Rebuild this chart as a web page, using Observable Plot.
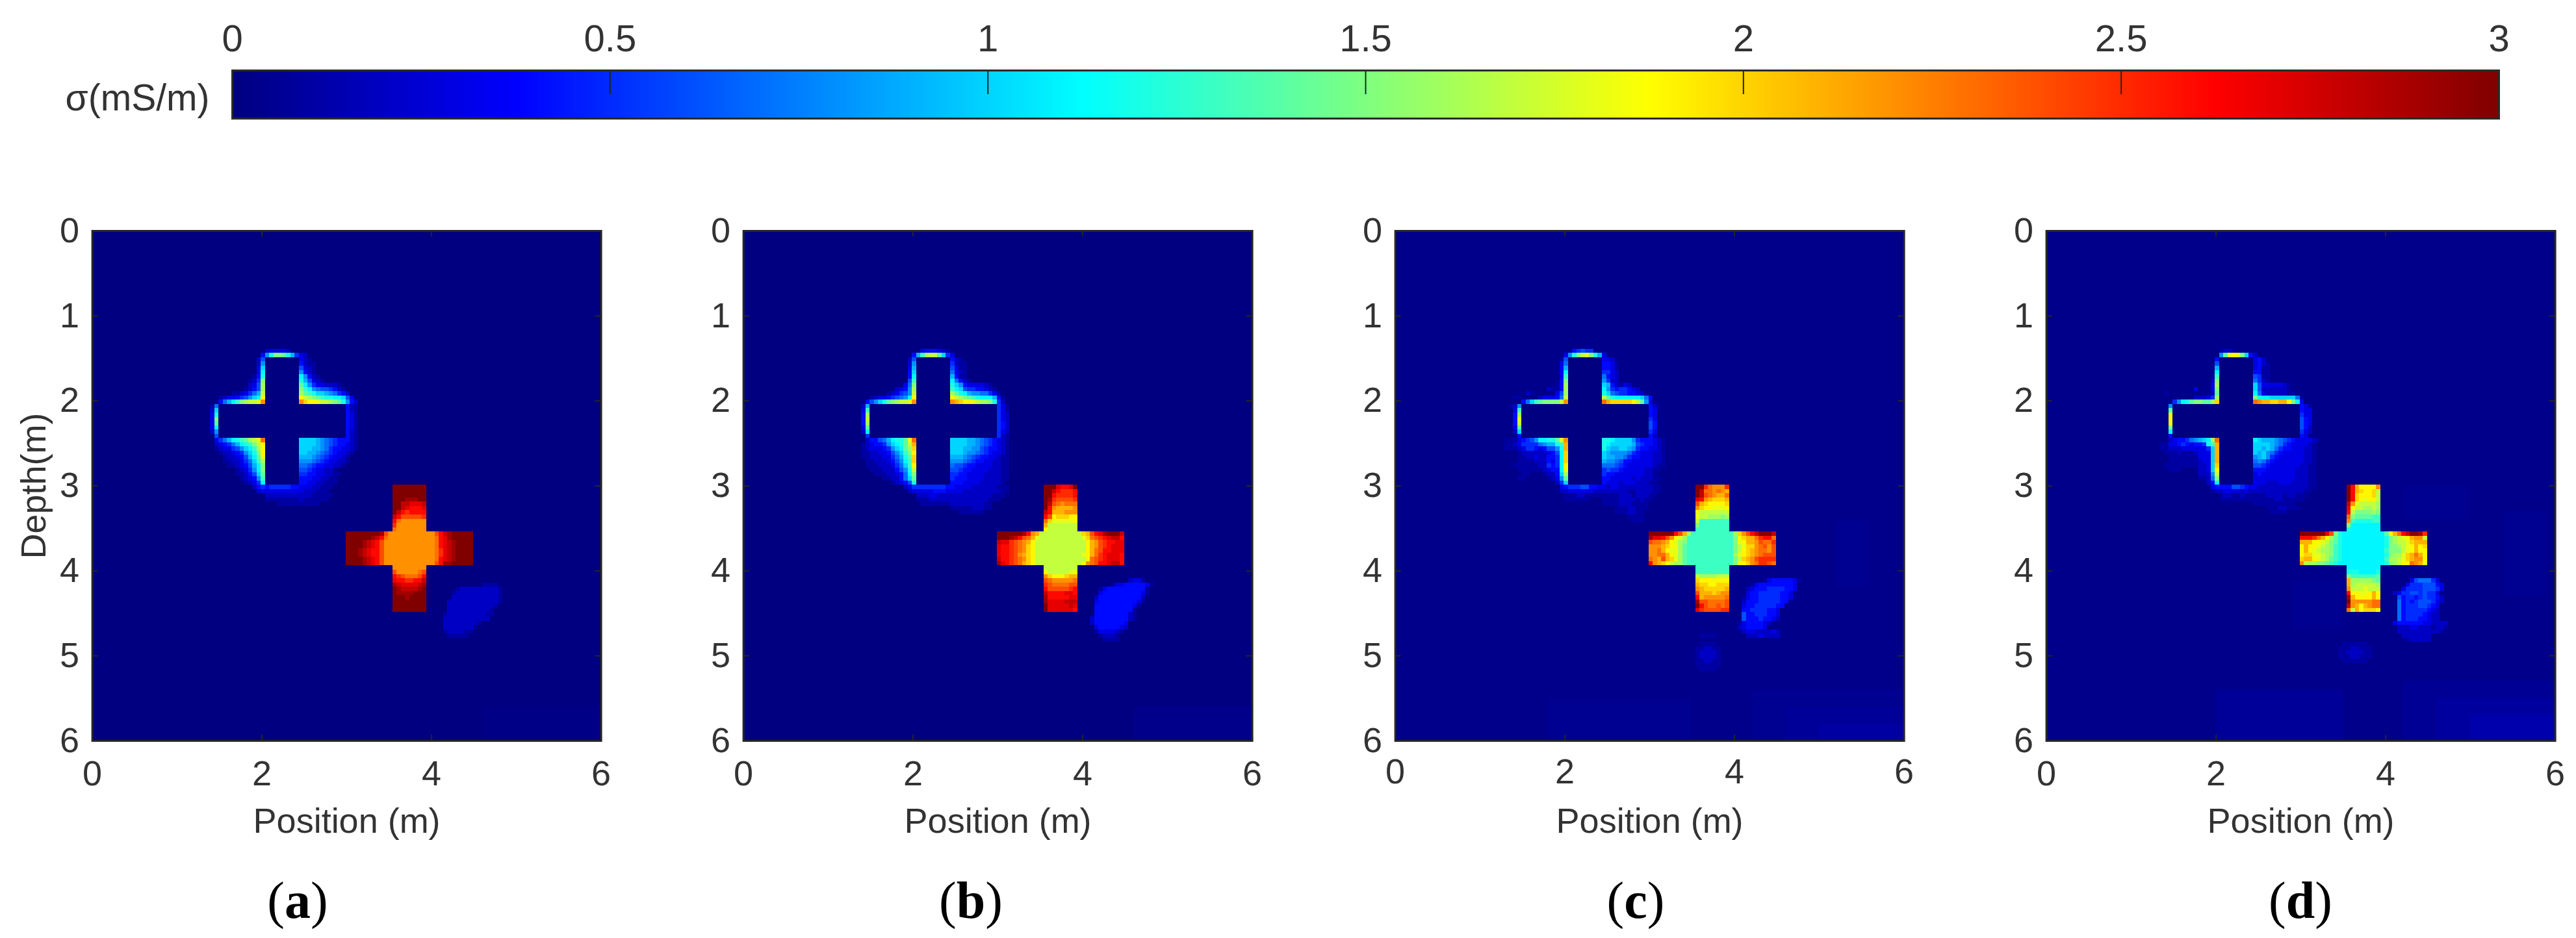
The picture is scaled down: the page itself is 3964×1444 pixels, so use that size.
<!DOCTYPE html>
<html><head><meta charset="utf-8">
<script src="https://cdn.jsdelivr.net/npm/d3@7"></script>
<script src="https://cdn.jsdelivr.net/npm/@observablehq/plot@0.6"></script>
<style>
html,body{margin:0;padding:0;background:#fff}
#page{position:relative;width:3964px;height:1444px;overflow:hidden;background:#fff}
#page>svg,#page>figure{position:absolute;margin:0}
.cap{position:absolute;font-family:"Liberation Serif";font-size:80px;color:#000;transform:translateX(-50%);white-space:nowrap;line-height:1}
</style></head><body><div id="page"></div>
<script>
// colour scale (mS/m)
const jetStops = [0, 0.375, 1.125, 1.875, 2.625, 3];
const jetColors = ["#000080", "#0000ff", "#00ffff", "#ffff00", "#ff0000", "#800000"];
const barTicks = [0, 0.5, 1, 1.5, 2, 2.5, 3];
const axisTicksX = [0, 2, 4, 6];
const axisTicksY = [0, 1, 2, 3, 4, 5, 6];
const captions = ["a", "b", "c", "d"];
const captionX = [458, 1494, 2517, 3540];
const panelLeft = [141.6, 1144, 2146.6, 3149];
const backgrounds = [0, 0, 0.03, 0.03];
// the conductivity-free hole of the first cross: [x1,x2,y1,y2] in metres
const holeArms = [[2.04, 2.44, 1.49, 2.99], [1.49, 2.99, 2.04, 2.44]];
// faint areas: [x1,x2,y1,y2,sigma]
const patchesA = [[4.6, 6, 5.6, 6, 0.02]];
const patchesB = [[4.6, 6, 5.6, 6, 0.03]];
const patchesC = [[4.2, 6, 5.4, 6, 0.05], [4.6, 6, 5.6, 6, 0.07], [5, 6, 5.8, 6, 0.1], [1.8, 3.5, 5.5, 6, 0.05], [5.2, 5.6, 3.4, 4.2, 0.05]];
const patchesD = [[4.2, 6, 5.3, 6, 0.06], [4.6, 6, 5.5, 6, 0.09], [5, 6, 5.7, 6, 0.13], [2, 3.5, 5.4, 6, 0.07], [5.4, 5.9, 3.3, 4.3, 0.05], [2.9, 3.5, 4.1, 4.7, 0.05], [4.2, 5, 3, 3.4, 0.05]];
// Cells, one string per 0.05 m row from depth 1.29 m.
// "col:chars": first column (0.05 m each, from 1.29 m) and base-36 sigma in tenths of mS/m.
const rowsA = ["","",
"15:233332","14:48cffec9532","13:26 23:321","13:28 23:4211","13:3a 23:6321","13:3b 23:8421","12:14c 23:b8421","11:125f 23:c96321",
"11:236g 23:eb85332221","10:1246g 23:fdb87665421","7:1123579h 23:gedcaa987542","4:12334568abj 23:jhgfedccbba63","4:479bdfghhim 23:mkjjihhgfec842",
"2:17 34:421","2:2a 34:421","2:3c 34:431","2:3f 34:431","2:3e 34:431","2:3b 34:431","2:28 34:421","3:6 34:421",
"3:3579bcdeghin 23:aaaa9876544421","3:234579bcdfhj 23:aaaa9876544321","3:1233568abdgj 23:aaa99875443321","4:1223458acfj 23:aa99876543321",
"5:1223469bei 23:999876543321","5:1122357adg 23:888765433221","6:1123469bf 23:77654433221","8:12358bf 23:665433221","8:11246ae 23:5544332211",
"9:12348d 23:444332211","10:1235b 23:443322111",
"12:2454555554433322111 45:uuuuuuuu","13:23333333333222111 45:uuuuuuuu","15:2222222222211111 45:uuuuuuuu","15:111111112111111 45:uuutttuu","18:1111111111 45:uussrrrs",
"45:uusrqqqr","45:usqpqqqq","45:sqooooop","45:qnmmmmmm","45:pmmmmmmm","45:nmmmmmmm",
"34:uuuuuuuutommmmmmmmmmmoqstuuuuu","34:uuuuuutsqnmmmmmmmmmmmnqrtuuuuu","34:uuuutsrqommmmmmmmmmmmnqrstuuuu","34:uuuutsrqommmmmmmmmmmmnqrstuuuu",
"34:uuutsrqqommmmmmmmmmmmnprstuuuu","34:uuutsrqqommmmmmmmmmmmnprstuuuu","34:uuuutsrqommmmmmmmmmmmnqrstuuuu","34:uuuutsrqommmmmmmmmmmmoqttuuuuu",
"45:mmmmmmmm","45:ommmmmno","45:qponnnoq","45:rqqppqqs","45:tsrrrrst 66:1111","45:utsssstu 60:12222222221","45:uttttuuu 59:122222222221","45:uuutuuuu 59:222222222221",
"45:uuuuuuuu 58:2222222222221","45:uuuuuuuu 58:222222222221","45:uuuuuuuu 58:22222222221","57:122222222211","57:22222222222","57:222222221","57:22222221","57:1222211","58:11111"];
const rowsB = ["","",
"16:3444321","14:49dghhea53","13:26 23:421","13:28 23:5211","13:39 23:6311","13:4a 23:7321","13:4b 23:9411","13:6d 23:b7421",
"12:37f 23:ca84333321","10:2348g 23:dba65544321","8:123568h 23:gecb98877531","4:123345678bj 23:jhgfedcbbb941","3:468acefghhim 23:mlkjjihggfc52",
"2:29 34:531","2:3d 34:531","2:4g 34:532","2:4h 34:532","2:4g 34:542","2:3e 34:542","2:2b 34:532","3:5 34:521",
"3:244679bccein 23:aaaa9987654321","2:1234458abcehl 23:aaaa9987654321","2:12333458abegk 23:aaa99886544321","2:112233468adfj 23:aaa98876543321",
"2:1122233579cek 23:99987654433211","3:112223468bdk 23:88876544332211","3:111222357adj 23:76654433332211","4:111222468ch 23:66544333322211","5:11122347bf 23:55443333222211",
"7:112247ae 23:54443333222211","9:12346c 23:4443333222221",
"12:2355555555443333222222111 45:uuurqqru","13:23333344433 24:33222222222 35:11 45:uusqpppq","15:222332222222222222111 45:uuqppppq","15:11122222222222222111 45:utpoooop","16:111111122222222 31:11 45:usonmnnn",
"23:1111122211 45:uqmllllm","25:111111 45:sqlllmmm","45:qojkkkjj","45:nkiiiiij","45:lhhhhhhh","45:jhhhhhhh",
"34:uuuuuutqmlhhhhhhhhhhkloqrtuuus","34:uuutsqonlihhhhhhhhhhiknopqrssq","34:srrponmljhhhhhhhhhhhhjlmopqqrr","34:rqqponmkjhhhhhhhhhhhhjlmopqrrr",
"34:rqqponmkjhhhhhhhhhhhhjlnoqqrrr","34:rqqpomlkjhhhhhhhhhhhijlnpqrrrq","34:sqqponmkjhhhhhhhhhhhhjnopqrrrq","34:trqponlkjhhhhhhhhhhhjmnoqqrssq",
"45:hhhhhhhh","45:jhhhhhii","45:mkjjjkll","45:onmmmmmn 65:2331","45:ponnnnoo 61:1334444431","45:qooooopq 58:134444444441","45:sqqqqrrq 58:344444444431","45:tqqqqqrr 57:244444444442",
"45:trrrrsss 57:344444444431","45:urrrrrsr 57:44444444431","45:urrrrrrq 57:4444444441","57:4444444421","56:24444444421","56:244444443","57:34444432","57:1333321","58:12221","59:1111"];
const rowsC = ["","",
"16:45655","14:38cfhifc93","13:16 23:332","13:37 23:4431","13:39 23:4431","13:3b 23:5532","13:3d 23:7432","13:4f 23:8522",
"12:14g 23:a942132","10:2114g 23:b85455432","5:21 12:36g 23:ca76554432","2:11 8:233347h 23:hecbbbbbba74","4:47adeffffhm 23:nlkkkkkjhe83",
"1:128 34:421","2:3d 34:43","2:4g 34:43","2:4i 34:53","2:4h 34:64","2:3e 34:64","2:2a 34:53","3:4 34:42",
"0:11134568bbcceim 23:ccbaaaa85444321","0:112355557899cdl 23:cbaaaaa96544321","0:1112355434668cl 23:ca99aa985443321","3:1222222346bk 23:a98888754333221",
"3:1122322445bk 23:a99887544333221","3:1111222435bk 23:988764433333221","2:11111122545bj 23:777654333333211","3:1111112344bi 23:56554333332211","4:11 9:1224ag 23:5443333333221",
"3:11 10:1238e 23:44333332322211","12:25a 23:4333233322211",
"13:345556644332332222222211 45:uupnmmmp","13:223333332222222211222211 45:usnnmnml","14:1112211111111222122211 45:usonmlln","14:111111 23:111122221211 45:rqmlkkkl","23:11112221111 45:olkjjjjk",
"26:11122111 45:mkjjiiij","26:1112211 45:jhhhhhhh","29:1111 45:ihhgggfg","30:111 45:hddddddd","45:fddddddd","45:dddddddd",
"34:uuuuuuqolgddddddddddgkmoqsuuus","34:trrqomjigdddddddddddfjkllnpqqn","34:onnmljigfdddddddddddfijllmonnp","34:mmmlkjigedddddddddddfhikkmnomo",
"34:mmnljiigedddddddddddfhjklmnnmo","34:mmnnljigedddddddddddgijklmnooo","34:nmlolkigedddddddddddfhklmopppp","34:qmlkjhggedddddddddddfjjkmnppon",
"45:dddddddd","45:dddddddd","45:hgggghhh","45:kjjjjjjj 61:134444431","45:lkkjjkkk 58:13444444443","45:mlkkkkkl 57:234445555443","45:olllklmm 57:34455555443","45:qlmmmmmn 56:1344555554431",
"45:toonnnno 56:24445555544","45:uqonnono 56:3445555544","45:rpoooopp 56:445555443","56:644555443","56:644454432","55:13444432","55:2344443","56:233222232","46:1111 57:22232222","",
"46:1111","45:112211","45:122221","45:122221","45:112211","45:111111","46:1111"];
const rowsD = ["","",
"15:1221","15:8eijifa42","14:4 23:342","14:6 23:3421","14:9 23:3411","14:b 23:4411","13:1d 23:6511","13:2f 23:7521",
"13:3g 23:a63333321","9:3 13:3f 23:a62222221","2:1 13:2e 23:b732222211","9:22235g 23:fcbbaaaaaa7 34:1","4:58bceffeegk 23:nmllkklljfb 34:3",
"3:8 34:431","3:e 34:433","3:i 34:533","3:j 34:643","3:i 34:643","3:f 34:642","3:b 34:532","3:4 34:43",
"3:23445789abgn 23:ba99987654333321","1:11334543445cdl 23:aaaa98754333321","1:112223333335al 23:aa9a97544333221","2:11121112333al 23:a9a875433333221",
"3:1111111333al 23:89a854333333221","3:1111111233al 23:787543333333221","2:11111111223ak 23:665433333332211","3:111 10:223aj 23:444333333322211","10:2228h 23:343333333322211",
"10:1127f 23:333333333322211","12:24b 23:333222333222211",
"13:3444466543322222222222211 45:uqljjjjm","13:122333323222222222222211 45:uqlkjjkh","15:12211211 23:1112222122111 45:uqkjjjkh","15:11111111111112211111 45:uqkjijjh","23:1111111111 45:smihhhhg",
"26:11122111 45:rjhhgghg","27:1111 45:qhffffgf","45:nfeeeedd","45:mdccccdd","45:fbbbbbbb","45:cbbbbbbb",
"34:uuuuuurofcbbbbbbbbbbejlnqsuutp","34:qqqpnljgecbbbbbbbbbbcfghijlmmh","34:llljjihfecbbbbbbbbbbcfghhiklll","34:jljjihgfdcbbbbbbbbbbcffghijljk",
"34:jljihggfdcbbbbbbbbbbdfffhijljj","34:jkkiihgfdcbbbbbbbbbbcfggiklnlj","34:klljihgedcbbbbbbbbbbdgghiklmmj","34:mhggffedcbbbbbbbbbbbcfghjjnmli",
"45:bbbbbbbb","45:cccbbbbc","45:fdddddde","45:lgggggfe 60:3677753","45:lghhhhhg 59:355566643","45:mhhhihhh 58:3555566653","45:qjjiijlj 56:23556656553","45:tljjjjlj 57:64554565542",
"45:ummmmmnn 57:74545666532","45:smljlmnn 57:7455566543","45:nhljkkkj 57:7455555432","57:7455554322","57:7455544322","56:3444444332222","57:222332221221","57:22222222221","58:2222222","59:122222",
"44:111111","43:11122111","43:11222211","43:11122111","44:111111"];

const allRows = [rowsA, rowsB, rowsC, rowsD];
const allPatches = [patchesA, patchesB, patchesC, patchesD];
const CELL = 0.05, ORIGIN = 1.29;
const page = document.getElementById("page");
const colorOpts = {type: "linear", domain: jetStops, range: jetColors, interpolate: "rgb", clamp: true};
const ink = "#333";

function parseCells(rows) {
  return rows.flatMap((row, r) => row.split(" ").filter(Boolean).flatMap(seg => {
    const [c, vals] = seg.split(":");
    return [...vals].map((ch, i) => ({col: +c + i, row: r, sigma: parseInt(ch, 36) / 10}));
  }));
}
function place(el, left, top) { el.style.left = left + "px"; el.style.top = top + "px"; page.appendChild(el); }

// colour bar
const bar = Plot.plot({
  width: 3964, height: 200, marginLeft: 357, marginRight: 119, marginTop: 108, marginBottom: 18,
  style: {fontFamily: "Liberation Sans", fontSize: "58px", color: ink, background: "transparent"},
  x: {domain: [0, 3]}, y: {domain: [0, 1], axis: null},
  color: colorOpts,
  marks: [
    Plot.raster({fill: (x) => x, x1: 0, x2: 3, y1: 0, y2: 1, width: 1200, height: 1}),
    Plot.ruleX(barTicks.slice(1, -1), {x: d => d, y1: 1, y2: 0.5, stroke: "#222", strokeWidth: 2}),
    Plot.frame({stroke: "#2a2a2a", strokeWidth: 3}),
    Plot.axisX({anchor: "top", ticks: barTicks, tickFormat: d => String(d), tickSize: 0, tickPadding: 30, label: null}),
    Plot.text(["σ(mS/m)"], {frameAnchor: "left", textAnchor: "end", dx: -35, dy: 6, fontSize: 57, fill: ink})
  ]
});
place(bar, 0, 0);

// panels
const ML = 141.6, MT = 40, SIZE_W = 783, SIZE_H = 785;
allRows.forEach((rows, p) => {
  const cells = parseCells(rows);
  const hole = holeArms.map(h => ({x1: h[0], x2: h[1], y1: h[2], y2: h[3], sigma: 0}));
  const patches = allPatches[p].map(h => ({x1: h[0], x2: h[1], y1: h[2], y2: h[3], sigma: h[4]}));
  const fig = Plot.plot({
    width: ML + SIZE_W + 30, height: MT + SIZE_H + 160,
    marginLeft: ML, marginRight: 30, marginTop: MT, marginBottom: 160,
    style: {fontFamily: "Liberation Sans", fontSize: "54px", color: ink, background: "transparent"},
    x: {domain: [0, 6]}, y: {domain: [0, 6], reverse: true},
    color: colorOpts,
    marks: [
      Plot.rect([{sigma: backgrounds[p]}], {x1: () => 0, x2: () => 6, y1: () => 0, y2: () => 6, fill: "sigma"}),
      Plot.rect(patches, {x1: "x1", x2: "x2", y1: "y1", y2: "y2", fill: "sigma"}),
      Plot.rect(cells, {
        x1: d => ORIGIN + d.col * CELL, x2: d => ORIGIN + (d.col + 1) * CELL,
        y1: d => ORIGIN + d.row * CELL, y2: d => ORIGIN + (d.row + 1) * CELL,
        fill: "sigma", shapeRendering: "crispEdges"
      }),
      Plot.rect(hole, {x1: "x1", x2: "x2", y1: "y1", y2: "y2", fill: "sigma", shapeRendering: "crispEdges"}),
      Plot.ruleX(axisTicksX, {x: d => d, y1: 6, y2: 5.93, stroke: "#262626", strokeWidth: 2}),
      Plot.ruleX(axisTicksX, {x: d => d, y1: 0, y2: 0.07, stroke: "#262626", strokeWidth: 2}),
      Plot.ruleY(axisTicksY, {y: d => d, x1: 0, x2: 0.07, stroke: "#262626", strokeWidth: 2}),
      Plot.ruleY(axisTicksY, {y: d => d, x1: 6, x2: 5.93, stroke: "#262626", strokeWidth: 2}),
      Plot.frame({stroke: "#262626", strokeWidth: 3}),
      Plot.axisX({ticks: axisTicksX, tickFormat: d => String(d), tickSize: 0, tickPadding: p === 2 ? 27 : 30,
        label: "Position (m)", labelAnchor: "center", labelArrow: "none", labelOffset: 142}),
      Plot.axisY({ticks: axisTicksY, tickFormat: d => String(d), tickSize: 0, tickPadding: 20,
        label: p === 0 ? "Depth(m)" : null, labelAnchor: "center", labelArrow: "none", labelOffset: 110})
    ]
  });
  place(fig, panelLeft[p] - ML, 355 - MT);
  const cap = document.createElement("div");
  cap.className = "cap";
  cap.innerHTML = "(<b>" + captions[p] + "</b>)";
  cap.style.left = captionX[p] + "px";
  cap.style.top = "1346px";
  page.appendChild(cap);
});
</script></body></html>
